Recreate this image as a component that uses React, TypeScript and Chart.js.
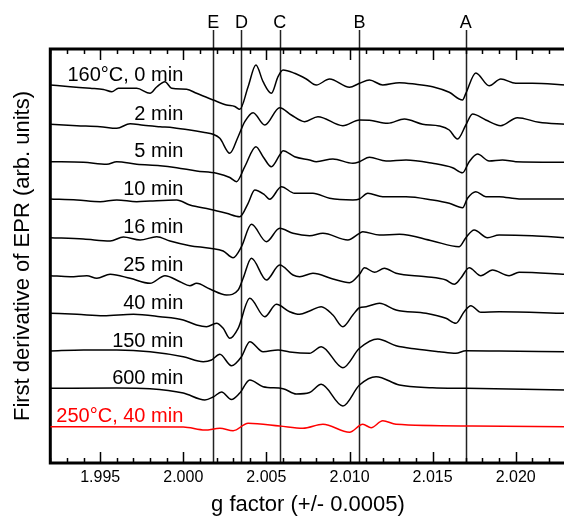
import React, { useEffect, useRef } from "react";
import { Chart, registerables } from "chart.js";

Chart.register(...registerables);

// ---- axis ----
const X_MIN = 1.992;
const X_MAX = 2.023;
const Y_MIN = 0;
const Y_MAX = 414;
const xTickValues = [1.995, 2.0, 2.005, 2.01, 2.015, 2.02];
const MINOR_STEP = 0.001;

// ---- marker lines ----
const markerNames = ["E", "D", "C", "B", "A"];
const markerG = [2.0018, 2.0035, 2.0058, 2.0106, 2.017];

// ---- series labels ----
const seriesLabels = [
  "160°C, 0 min",
  "2 min",
  "5 min",
  "10 min",
  "16 min",
  "25 min",
  "40 min",
  "150 min",
  "600 min",
  "250°C, 40 min",
];
const seriesColors = ["#000", "#000", "#000", "#000", "#000", "#000", "#000", "#000", "#000", "#ff0000"];
const LABEL_G = 2.0;

// ---- spectra: [g, intensity (arb. units, stacked)] ----
const s0min: [number, number][] = [
  [1.992, 378], [1.9932, 376.3], [1.9944, 374.7], [1.9952, 373.5], [1.9957, 371.3],
  [1.9961, 374.7], [1.9972, 374.7], [1.998, 369.7], [1.9984, 376], [1.9989, 381.3],
  [1.9993, 374.7], [2.0002, 373.7], [2.0008, 369.7], [2.0018, 363], [2.0026, 358],
  [2.0031, 356.5], [2.0034, 353.7], [2.0039, 376.3], [2.00437, 398], [2.0048, 381.3],
  [2.0053, 369.7], [2.0057, 386.3], [2.006, 393], [2.0067, 389.7], [2.0074, 384],
  [2.008, 378], [2.0088, 384], [2.01, 375.7], [2.0106, 379.7], [2.0112, 383],
  [2.012, 378], [2.013, 380.3], [2.014, 378.7], [2.015, 376.3], [2.016, 370.7],
  [2.0168, 363], [2.017, 369.7], [2.0176, 390], [2.0184, 377.3], [2.0191, 384],
  [2.02, 379.7], [2.021, 379.7], [2.023, 378],
];
const s2min: [number, number][] = [
  [1.992, 338.7], [1.9936, 337.3], [1.995, 336.3], [1.996, 334.7], [1.9968, 339.3],
  [1.9976, 337.7], [1.9986, 336.3], [1.9994, 335.3], [2.0004, 333], [2.0012, 330.7],
  [2.0018, 328.7], [2.0022, 324.7], [2.0028, 309.7], [2.0033, 326.3], [2.0037, 341.3],
  [2.0042, 350.3], [2.0049, 338], [2.0058, 355.3], [2.0065, 348], [2.0073, 341.3],
  [2.0081, 346.3], [2.0096, 337.3], [2.0106, 343], [2.0112, 342.7], [2.0123, 339.7],
  [2.0133, 344], [2.0144, 338.7], [2.0154, 337], [2.016, 333], [2.0165, 324],
  [2.017, 338], [2.0174, 349], [2.0182, 343], [2.0191, 337.3], [2.0201, 345.3],
  [2.0214, 340.7], [2.023, 338.7],
];
const s5min: [number, number][] = [
  [1.992, 301.3], [1.994, 300.7], [1.9954, 298.7], [1.996, 301.3], [1.9972, 298.7],
  [1.9986, 297.3], [1.9996, 295.3], [2.0008, 292], [2.002, 289.7], [2.0028, 285.5],
  [2.0032, 281.3], [2.0037, 296.3], [2.00437, 316.3], [2.0048, 306.3], [2.0053, 296.3],
  [2.0058, 308], [2.006, 312.3], [2.0067, 306.3], [2.0076, 303], [2.008, 301.3],
  [2.009, 304], [2.0102, 299.7], [2.0106, 301.3], [2.0112, 305.7], [2.0122, 302],
  [2.0134, 303], [2.015, 299.7], [2.0162, 295.3], [2.0168, 290.3], [2.0172, 301.3],
  [2.0177, 309], [2.0184, 302], [2.0192, 303], [2.02, 301.3], [2.023, 300.7],
];
const s10min: [number, number][] = [
  [1.992, 264], [1.9936, 263], [1.995, 261.3], [1.996, 263], [1.9972, 261.3],
  [1.998, 262], [1.9996, 263], [2.0004, 258], [2.0016, 253.7], [2.0026, 249.7],
  [2.0034, 246.3], [2.0039, 259.7], [2.0043, 273], [2.0049, 268], [2.0052, 263.7],
  [2.0059, 276.3], [2.0067, 269.7], [2.0078, 269.7], [2.0088, 264.7], [2.0102, 263],
  [2.0106, 264], [2.0111, 269.7], [2.012, 266.3], [2.0134, 266.3], [2.015, 263],
  [2.016, 259.7], [2.0168, 255.3], [2.0171, 264.7], [2.0176, 271.3], [2.0182, 266.3],
  [2.019, 266.3], [2.0202, 264], [2.023, 264],
];
const s16min: [number, number][] = [
  [1.992, 225.3], [1.994, 224], [1.9956, 222], [1.9964, 226], [1.9974, 223],
  [1.9984, 226.3], [1.9992, 222], [2.0004, 217.3], [2.0016, 214.7], [2.0024, 212],
  [2.003, 205.3], [2.0035, 216.3], [2.0041, 238.7], [2.005, 221.3], [2.0058, 234.7],
  [2.0066, 229.7], [2.0076, 227.3], [2.0084, 229.7], [2.0099, 223], [2.0106, 229.7],
  [2.0108, 231.3], [2.0118, 228], [2.013, 228.7], [2.015, 222], [2.0166, 216.3],
  [2.017, 225.3], [2.0175, 233], [2.0183, 225.3], [2.019, 228], [2.021, 227.3],
  [2.023, 225.3],
];
const s25min: [number, number][] = [
  [1.992, 187.3], [1.9932, 186.3], [1.9942, 187.3], [1.9948, 184.7], [1.9956, 188.7],
  [1.9968, 184.7], [1.998, 179.7], [1.9989, 187.3], [1.9998, 181.3], [2.0004, 177.3],
  [2.0008, 179.7], [2.0016, 174], [2.0026, 168], [2.0033, 173], [2.0036, 184.7],
  [2.0041, 204.7], [2.005, 183], [2.0058, 198], [2.0066, 188], [2.007, 186.3],
  [2.0078, 189.7], [2.009, 184], [2.01, 180.3], [2.0106, 188.7], [2.0109, 195.3],
  [2.0115, 190.7], [2.0121, 194.7], [2.0128, 189.7], [2.0146, 186.3], [2.0158, 183],
  [2.0163, 178.7], [2.0167, 185], [2.0172, 195.3], [2.0179, 187.3], [2.0186, 193],
  [2.0196, 187.3], [2.0202, 190.7], [2.023, 188.7],
];
const s40min: [number, number][] = [
  [1.992, 149.7], [1.9936, 148.7], [1.9952, 147.3], [1.997, 148.7], [1.9986, 146.3],
  [2.0, 143], [2.0008, 138], [2.0014, 136.3], [2.002, 139.7], [2.0024, 134.7],
  [2.0028, 124.7], [2.0033, 134.7], [2.004, 164.7], [2.0049, 146.3], [2.0056, 158.7],
  [2.0064, 151.3], [2.007, 148.7], [2.0076, 152], [2.0083, 156.3], [2.009, 148],
  [2.0096, 136.3], [2.0102, 148], [2.0106, 155.3], [2.011, 156.3], [2.0118, 159.7],
  [2.0128, 153], [2.0146, 149.7], [2.0158, 144.7], [2.0164, 139.7], [2.0169, 151.3],
  [2.0173, 157.3], [2.0179, 150.7], [2.019, 151.3], [2.023, 149.7],
];
const s150min: [number, number][] = [
  [1.992, 112], [1.994, 113], [1.996, 113], [1.998, 111.3], [2.0, 106.3],
  [2.0012, 101.3], [2.0017, 103], [2.0022, 108.7], [2.0029, 97.3], [2.0035, 106.3],
  [2.004, 121.3], [2.0048, 111.3], [2.0057, 113], [2.0064, 111], [2.0076, 109.7],
  [2.0083, 116.3], [2.0096, 95.3], [2.0106, 114.7], [2.0117, 124], [2.0128, 117.3],
  [2.014, 114], [2.0154, 111.3], [2.0164, 109.7], [2.017, 112.3], [2.019, 112],
  [2.023, 111.3],
];
const s600min: [number, number][] = [
  [1.992, 74.7], [1.996, 75], [1.998, 74.3], [2.0, 70], [2.0013, 63],
  [2.0018, 66], [2.0023, 71], [2.0029, 63.5], [2.0034, 70], [2.004, 83],
  [2.0048, 76.3], [2.006, 74.3], [2.0068, 69], [2.0076, 70.5], [2.0083, 78.7],
  [2.0096, 57], [2.0106, 78], [2.0116, 86.3], [2.013, 78], [2.015, 75.3],
  [2.017, 74.7], [2.023, 73],
];
const s250c40min: [number, number][] = [
  [1.992, 36.3], [2.0, 36], [2.0013, 33], [2.0022, 34.7], [2.003, 32.3],
  [2.0039, 39.7], [2.0058, 37], [2.0072, 34.7], [2.0084, 38.7], [2.01, 30.7],
  [2.0108, 38.7], [2.0113, 35.3], [2.012, 42.3], [2.0128, 38.7], [2.0174, 37],
  [2.023, 36.3],
];

const allSeries = [s0min, s2min, s5min, s10min, s16min, s25min, s40min, s150min, s600min, s250c40min];

const FONT = "'Liberation Sans', Arial, Helvetica, sans-serif";

const decorPlugin = {
  id: "decor",
  beforeDatasetsDraw(chart: any) {
    const { ctx, chartArea, scales } = chart;
    const xs = scales.x;
    ctx.save();
    // marker lines
    ctx.strokeStyle = "#222";
    ctx.lineWidth = 1.5;
    markerG.forEach((g) => {
      const px = Math.round(xs.getPixelForValue(g)) + 0.5;
      ctx.beginPath();
      ctx.moveTo(px, chartArea.top - 19);
      ctx.lineTo(px, chartArea.bottom);
      ctx.stroke();
    });
    // marker names
    ctx.fillStyle = "#000";
    ctx.font = `18px ${FONT}`;
    ctx.textAlign = "center";
    ctx.textBaseline = "middle";
    markerNames.forEach((n, i) => {
      ctx.fillText(n, xs.getPixelForValue(markerG[i]), chartArea.top - 26);
    });
    // ticks (inward, top and bottom)
    ctx.strokeStyle = "#000";
    ctx.lineWidth = 1.5;
    const n = Math.round((X_MAX - X_MIN) / MINOR_STEP);
    for (let k = 0; k <= n; k++) {
      const g = X_MIN + k * MINOR_STEP;
      const milli = Math.round(g * 1000);
      const major = milli % 5 === 0;
      const len = major ? 11 : 5;
      const px = Math.round(xs.getPixelForValue(g)) + 0.5;
      ctx.beginPath();
      ctx.moveTo(px, chartArea.top);
      ctx.lineTo(px, chartArea.top + len);
      ctx.moveTo(px, chartArea.bottom);
      ctx.lineTo(px, chartArea.bottom - len);
      ctx.stroke();
    }
    // frame (left, top, bottom)
    ctx.lineWidth = 3;
    ctx.beginPath();
    ctx.moveTo(chartArea.right + 10, chartArea.top);
    ctx.lineTo(chartArea.left, chartArea.top);
    ctx.lineTo(chartArea.left, chartArea.bottom);
    ctx.lineTo(chartArea.right + 10, chartArea.bottom);
    ctx.stroke();
    ctx.restore();
  },
  afterDatasetsDraw(chart: any) {
    const { ctx, scales } = chart;
    const xs = scales.x;
    const ys = scales.y;
    ctx.save();
    ctx.font = `20px ${FONT}`;
    ctx.textAlign = "right";
    ctx.textBaseline = "middle";
    seriesLabels.forEach((lab, i) => {
      ctx.fillStyle = seriesColors[i];
      const base = allSeries[i][0][1];
      ctx.fillText(lab, xs.getPixelForValue(LABEL_G), ys.getPixelForValue(base + 10));
    });
    ctx.restore();
  },
};

export default function App() {
  const ref = useRef<HTMLCanvasElement | null>(null);
  useEffect(() => {
    if (!ref.current) return;
    const chart = new Chart(ref.current, {
      type: "line",
      data: {
        datasets: allSeries.map((s, i) => ({
          label: seriesLabels[i],
          data: s.map(([x, y]) => ({ x, y })),
          borderColor: seriesColors[i],
          borderWidth: 1.5,
          pointRadius: 0,
          fill: false,
          cubicInterpolationMode: "monotone" as const,
        })),
      },
      options: {
        responsive: false,
        animation: false,
        devicePixelRatio: 1,
        layout: { padding: { left: 0, right: 14.4, top: 49, bottom: 0 } },
        plugins: { legend: { display: false }, tooltip: { enabled: false } },
        scales: {
          x: {
            type: "linear",
            min: X_MIN,
            max: X_MAX,
            afterBuildTicks: (s: any) => {
              s.ticks = xTickValues.map((v) => ({ value: v }));
            },
            afterFit: (s: any) => {
              s.height = 53;
            },
            grid: { display: false, drawTicks: false },
            border: { display: false },
            ticks: {
              autoSkip: false,
              maxRotation: 0,
              padding: 5,
              color: "#000",
              font: { size: 16, family: FONT },
              callback: (v: any) => Number(v).toFixed(3),
            },
            title: {
              display: true,
              text: "g factor (+/- 0.0005)",
              color: "#000",
              font: { size: 22, family: FONT, lineHeight: 1 },
              padding: { top: 0, bottom: 0 },
            },
          },
          y: {
            type: "linear",
            min: Y_MIN,
            max: Y_MAX,
            afterFit: (s: any) => {
              s.width = 50.3;
            },
            grid: { display: false, drawTicks: false },
            border: { display: false },
            ticks: { display: false },
            title: {
              display: true,
              text: "First derivative of EPR (arb. units)",
              color: "#000",
              font: { size: 22, family: FONT, lineHeight: 1 },
              padding: { top: 12, bottom: 0 },
            },
          },
        },
      },
      plugins: [decorPlugin],
    });
    return () => chart.destroy();
  }, []);
  return (
    <div style={{ position: "absolute", left: 0, top: 0, width: 564, height: 516, overflow: "hidden", background: "#fff" }}>
      <canvas ref={ref} width={580} height={516} style={{ display: "block", width: 580, height: 516 }} />
    </div>
  );
}
